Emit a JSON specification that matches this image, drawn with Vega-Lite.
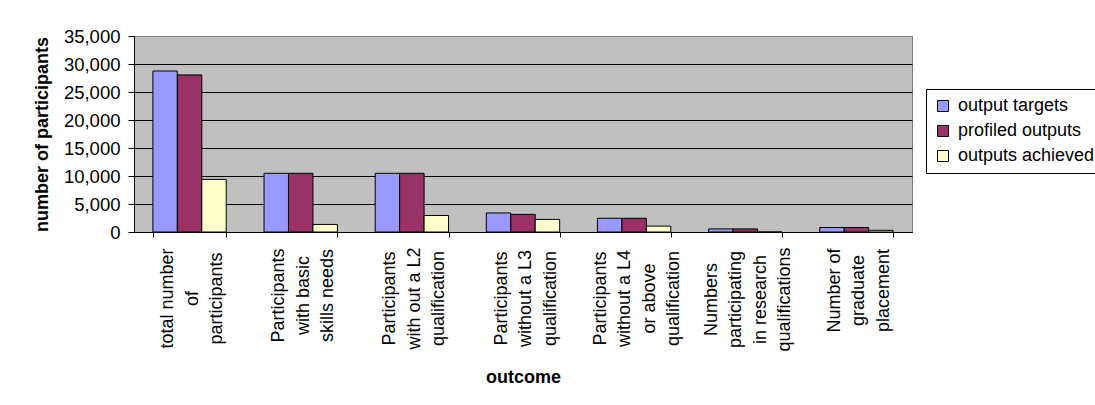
{
  "$schema": "https://vega.github.io/schema/vega-lite/v6.json",
  "width": 778,
  "height": 196,
  "autosize": {"type": "none"},
  "padding": {"left": 134, "top": 36, "right": 183, "bottom": 173},
  "background": "#ffffff",
  "data": {
    "values": [
      {"outcome": "total number|of|participants", "series": "output targets", "participants": 28750},
      {"outcome": "total number|of|participants", "series": "profiled outputs", "participants": 28050},
      {"outcome": "total number|of|participants", "series": "outputs achieved", "participants": 9400},
      {"outcome": "Participants|with basic|skills needs", "series": "output targets", "participants": 10480},
      {"outcome": "Participants|with basic|skills needs", "series": "profiled outputs", "participants": 10480},
      {"outcome": "Participants|with basic|skills needs", "series": "outputs achieved", "participants": 1350},
      {"outcome": "Participants|with out a L2|qualification", "series": "output targets", "participants": 10480},
      {"outcome": "Participants|with out a L2|qualification", "series": "profiled outputs", "participants": 10480},
      {"outcome": "Participants|with out a L2|qualification", "series": "outputs achieved", "participants": 2950},
      {"outcome": "Participants|without a L3|qualification", "series": "output targets", "participants": 3400},
      {"outcome": "Participants|without a L3|qualification", "series": "profiled outputs", "participants": 3150},
      {"outcome": "Participants|without a L3|qualification", "series": "outputs achieved", "participants": 2250},
      {"outcome": "Participants|without a L4|or above|qualification", "series": "output targets", "participants": 2450},
      {"outcome": "Participants|without a L4|or above|qualification", "series": "profiled outputs", "participants": 2450},
      {"outcome": "Participants|without a L4|or above|qualification", "series": "outputs achieved", "participants": 1050},
      {"outcome": "Numbers|participating|in research|qualifications", "series": "output targets", "participants": 550},
      {"outcome": "Numbers|participating|in research|qualifications", "series": "profiled outputs", "participants": 550},
      {"outcome": "Numbers|participating|in research|qualifications", "series": "outputs achieved", "participants": 0},
      {"outcome": "Number of|graduate|placement", "series": "output targets", "participants": 800},
      {"outcome": "Number of|graduate|placement", "series": "profiled outputs", "participants": 800},
      {"outcome": "Number of|graduate|placement", "series": "outputs achieved", "participants": 300}
    ]
  },
  "mark": {"type": "bar", "stroke": "#000000", "strokeWidth": 1},
  "encoding": {
    "x": {
      "field": "outcome",
      "type": "nominal",
      "sort": null,
      "title": "outcome",
      "scale": {"paddingInner": 0.34, "paddingOuter": 0.17},
      "axis": {
        "labelExpr": "datum.value ? split(datum.value, '|') : ''",
        "labelAngle": 270,
        "labelAlign": "center",
        "labelBaseline": "middle",
        "labelLineHeight": 24.5,
        "labelPadding": {
          "condition": [
            {"test": "datum.value == 'Number of|graduate|placement'", "value": 53},
            {"test": "datum.value == 'Participants|with basic|skills needs'", "value": 58},
            {"test": "datum.value == 'Numbers|participating|in research|qualifications'", "value": 62}
          ],
          "value": 61
        },
        "labelOffset": {"condition": {"test": "datum.value && length(split(datum.value, '|')) == 4", "value": -34}, "value": -22},
        "labelOverlap": false,
        "labelBound": false,
        "labelFlush": false,
        "labelLimit": 0,
        "tickBand": "extent",
        "tickSize": 5,
        "titlePadding": 17
      }
    },
    "xOffset": {
      "field": "series",
      "type": "nominal",
      "sort": ["output targets", "profiled outputs", "outputs achieved"]
    },
    "y": {
      "field": "participants",
      "type": "quantitative",
      "title": "number of participants",
      "scale": {"domain": [0, 35000], "nice": false},
      "axis": {
        "values": [0, 5000, 10000, 15000, 20000, 25000, 30000, 35000],
        "format": ",.0f",
        "labelFontSize": 18.5,
        "tickSize": 6,
        "labelPadding": 8,
        "titlePadding": 12,
        "grid": true,
        "gridColor": {"condition": {"test": "datum.value >= 35000", "value": "#808080"}, "value": "#000000"},
        "gridWidth": 1
      }
    },
    "color": {
      "field": "series",
      "type": "nominal",
      "sort": ["output targets", "profiled outputs", "outputs achieved"],
      "scale": {
        "domain": ["output targets", "profiled outputs", "outputs achieved"],
        "range": ["#9999FF", "#993366", "#FFFFCC"]
      },
      "legend": {
        "title": null,
        "orient": "none",
        "legendX": 792,
        "legendY": 53,
        "symbolType": "square",
        "symbolSize": 121,
        "symbolStrokeColor": "#000000",
        "symbolStrokeWidth": 1,
        "symbolOpacity": 1,
        "labelFontSize": 18,
        "labelOffset": 6,
        "rowPadding": 7,
        "padding": 8,
        "strokeColor": "#000000",
        "fillColor": "#ffffff"
      }
    }
  },
  "config": {
    "font": "Liberation Sans",
    "view": {"fill": "#C0C0C0", "stroke": "#808080", "strokeWidth": 1},
    "axis": {
      "domainColor": "#000000",
      "domainWidth": 1,
      "tickColor": "#000000",
      "tickWidth": 1,
      "labelColor": "#000000",
      "labelFont": "Liberation Sans",
      "labelFontSize": 18,
      "titleColor": "#000000",
      "titleFont": "Liberation Sans",
      "titleFontSize": 18,
      "titleFontWeight": "bold"
    },
    "legend": {
      "labelColor": "#000000",
      "labelFont": "Liberation Sans"
    }
  }
}
